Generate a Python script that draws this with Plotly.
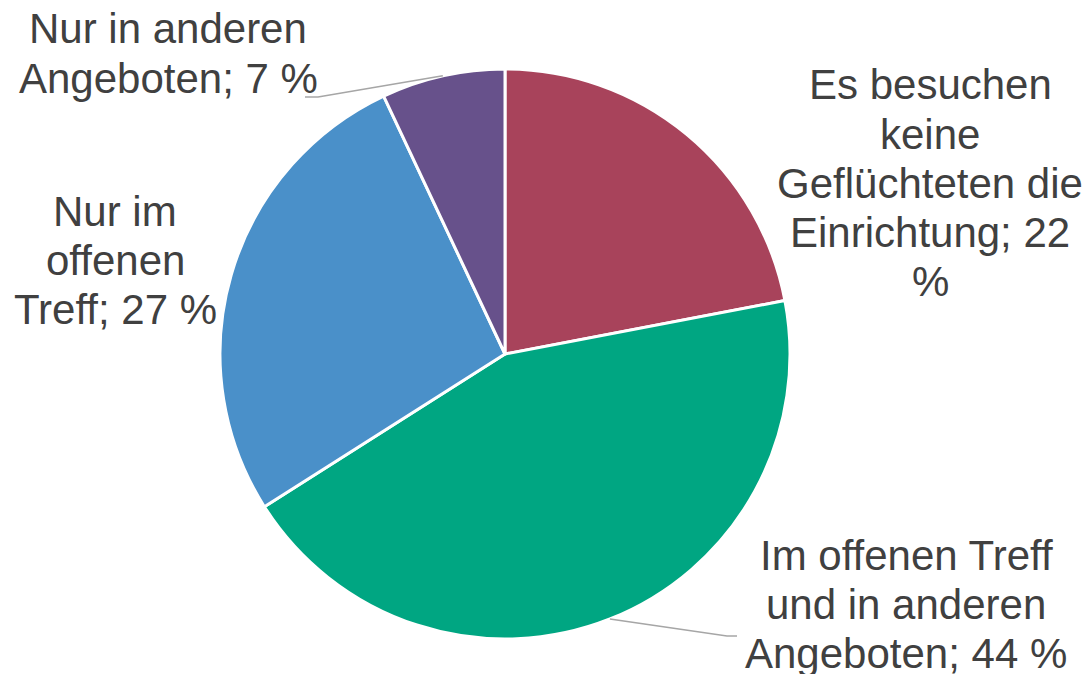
import numpy as np
import plotly.graph_objects as go

W, H = 1088, 674

categories = [
    "Es besuchen keine Geflüchteten die Einrichtung",
    "Im offenen Treff und in anderen Angeboten",
    "Nur im offenen Treff",
    "Nur in anderen Angeboten",
]
values = [22, 44, 27, 7]
colors = ["#A8435B", "#00A682", "#4A90C9", "#67518B"]

# label text split in lines as in the original
label_lines = [
    ["Es besuchen", "keine", "Geflüchteten die", "Einrichtung; 22", "%"],
    ["Im offenen Treff", "und in anderen", "Angeboten; 44 %"],
    ["Nur im", "offenen", "Treff; 27 %"],
    ["Nur in anderen", "Angeboten; 7 %"],
]
# label block placement in pixels: centre x, first baseline y
label_pos = [(930, 99), (906, 569), (115, 225), (168, 43)]
line_gap = 49

# pie geometry in pixels
cx, cy, r = 505, 354, 285

FONT = "Liberation Sans, Arial, sans-serif"
TEXT = "#404040"


def fx(x):
    return x / W


def fy(y):
    return 1 - y / H


fig = go.Figure(go.Pie(
    labels=categories,
    values=values,
    sort=False,
    direction="clockwise",
    rotation=0,
    marker=dict(colors=colors, line=dict(color="white", width=3)),
    textinfo="none",
    hoverinfo="label+percent",
    domain=dict(x=[fx(cx - r), fx(cx + r)], y=[fy(cy + r), fy(cy - r)]),
))

annotations = []
for lines, (lx, ly) in zip(label_lines, label_pos):
    for i, line in enumerate(lines):
        annotations.append(dict(
            x=fx(lx), y=fy(ly + i * line_gap - 14),
            xref="paper", yref="paper",
            text=line, showarrow=False,
            xanchor="center", yanchor="middle",
            font=dict(family=FONT, size=42, color=TEXT),
        ))

# leader lines from the slice middle on the rim to the label
shapes = []
cum = np.cumsum([0] + values)
total = sum(values)
leaders = {1: [(727, 636), (737, 636)], 3: [(318, 97), (305, 97)]}
for idx, pts in leaders.items():
    mid = (cum[idx] + values[idx] / 2) / total * 2 * np.pi
    sx = cx + r * np.sin(mid)
    sy = cy - r * np.cos(mid)
    path = f"M {fx(sx)} {fy(sy)}"
    for px_, py_ in pts:
        path += f" L {fx(px_)} {fy(py_)}"
    shapes.append(dict(type="path", xref="paper", yref="paper", path=path,
                       line=dict(color="#A6A6A6", width=1.5)))

fig.update_layout(
    width=W, height=H,
    margin=dict(l=0, r=0, t=0, b=0),
    paper_bgcolor="white",
    plot_bgcolor="white",
    showlegend=False,
    annotations=annotations,
    shapes=shapes,
)

# drop the default page margin so the figure sits at the window corner
fig.write_html("out.html", config={"displayModeBar": False},
               post_script="document.body.style.margin='0';")
